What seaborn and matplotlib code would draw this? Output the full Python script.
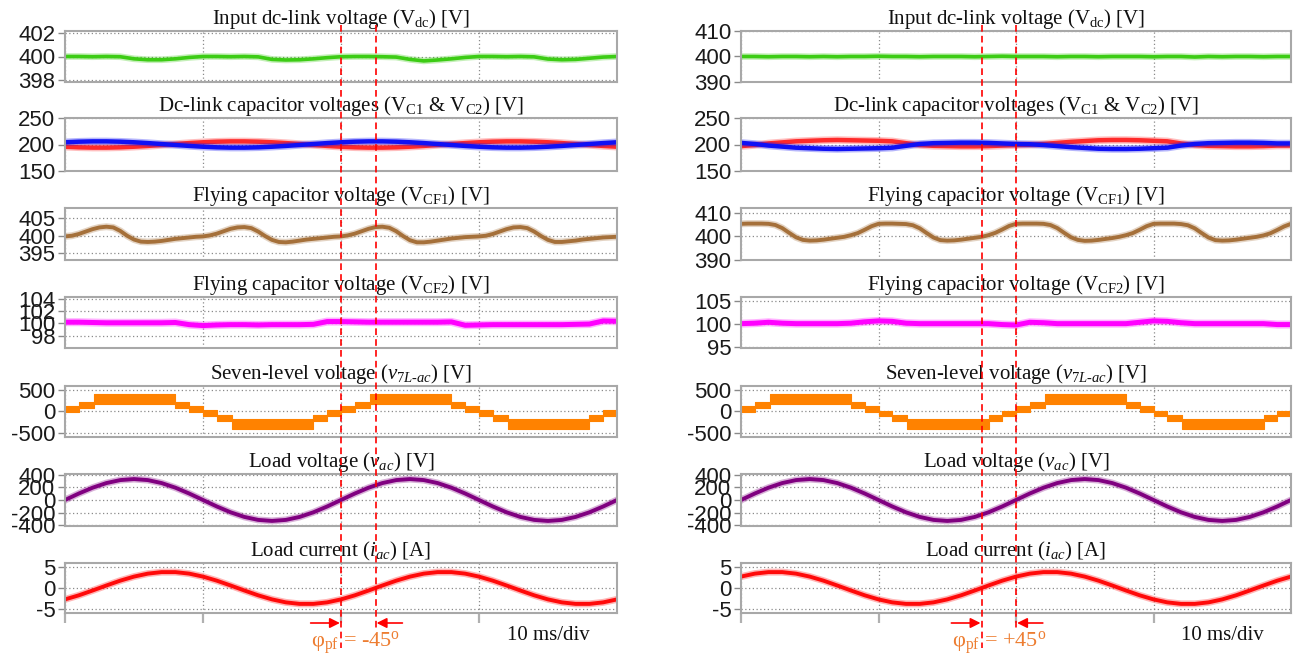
import numpy as np
import matplotlib
matplotlib.use("Agg")
import matplotlib.pyplot as plt
import seaborn as sns
from matplotlib.transforms import blended_transform_factory
from matplotlib.lines import Line2D

# ---------------------------------------------------------------- data
# sample instants in ms (10 ms/div, 4 divisions)
t_1ms = np.arange(0, 41, 1.0)
t_05ms = np.arange(0, 40.5, 0.5)

vdc_left = [400.0, 400.0, 399.98, 400.0, 399.98, 399.8, 399.72, 399.72, 399.8, 399.92,
            400.0, 400.0, 399.98, 400.0, 399.97, 399.75, 399.7, 399.72, 399.8, 399.9,
            399.98, 400.0, 400.0, 399.98, 399.95, 399.75, 399.62, 399.7, 399.8, 399.92,
            400.0, 400.0, 399.98, 400.0, 399.97, 399.78, 399.72, 399.75, 399.85, 399.95, 400.0]
vdc_right = [400.0, 400.0, 399.9, 400.0, 400.0, 399.9, 400.0, 399.9, 400.0, 400.0,
             400.1, 400.0, 400.0, 399.9, 400.0, 400.0, 400.0, 399.9, 400.0, 400.1,
             400.0, 400.0, 400.0, 399.9, 400.0, 400.0, 399.9, 400.0, 400.0, 400.0,
             399.9, 400.0, 400.0, 399.8, 400.0, 399.9, 400.0, 400.0, 399.9, 400.0, 400.0]

vc1_left = [204.2, 205.3, 205.9, 205.9, 205.3, 204.2, 202.7, 200.9, 199.1, 197.3,
            195.8, 194.7, 194.1, 194.1, 194.7, 195.8, 197.3, 199.1, 200.9, 202.7,
            204.2, 205.3, 205.9, 205.9, 205.3, 204.2, 202.7, 200.9, 199.1, 197.3,
            195.8, 194.7, 194.1, 194.1, 194.7, 195.8, 197.3, 199.1, 200.9, 202.7, 204.2]
vc2_left = [195.8, 194.7, 194.1, 194.1, 194.7, 195.8, 197.3, 199.1, 200.9, 202.7,
            204.2, 205.3, 205.9, 205.9, 205.3, 204.2, 202.7, 200.9, 199.1, 197.3,
            195.8, 194.7, 194.1, 194.1, 194.7, 195.8, 197.3, 199.1, 200.9, 202.7,
            204.2, 205.3, 205.9, 205.9, 205.3, 204.2, 202.7, 200.9, 199.1, 197.3, 195.8]
vc1_right = [203, 201, 198, 196, 194, 193, 192, 191.5, 192, 192.5,
             193, 194, 197.5, 201, 202.5, 203, 203.5, 203.5, 203, 202,
             201, 200.5, 199, 197, 195, 193.5, 192, 191.5, 191.5, 192,
             193, 194, 198, 201, 202.5, 203, 203.5, 203.5, 203, 202, 202]
vc2_right = [197, 199, 202, 204, 206, 207, 208, 208.5, 208, 207.5,
             207, 206, 202.5, 199, 197.5, 197, 196.5, 196.5, 197, 198,
             199, 199.5, 201, 203, 205, 206.5, 208, 208.5, 208.5, 208,
             207, 206, 202, 199, 197.5, 197, 196.5, 196.5, 197, 198, 198]

vcf1_left = [399.8, 400.0, 400.5, 401.2, 401.9, 402.4, 402.6, 402.4, 401.4, 400.0,
             398.9, 398.3, 398.2, 398.3, 398.5, 398.8, 399.1, 399.3, 399.5, 399.7,
             399.8, 400.1, 400.6, 401.3, 402.0, 402.4, 402.5, 402.2, 401.2, 399.9,
             398.8, 398.2, 398.1, 398.3, 398.6, 398.9, 399.1, 399.3, 399.5, 399.7,
             399.8, 400.1, 400.6, 401.3, 402.0, 402.5, 402.6, 402.3, 401.3, 399.9,
             398.7, 398.1, 398.1, 398.3, 398.6, 398.9, 399.2, 399.4, 399.6, 399.7,
             399.8, 400.0, 400.5, 401.2, 401.9, 402.4, 402.5, 402.2, 401.2, 399.9,
             398.8, 398.2, 398.2, 398.4, 398.6, 398.9, 399.1, 399.3, 399.5, 399.6, 399.7]
vcf1_right = [405.3, 405.4, 405.4, 405.4, 405.3, 404.8, 403.5, 401.5, 399.6, 398.5,
              398.2, 398.3, 398.6, 399.0, 399.4, 399.8, 400.5, 401.4, 402.8, 404.3,
              405.3, 405.4, 405.4, 405.3, 405.2, 404.7, 403.4, 401.4, 399.5, 398.4,
              398.2, 398.3, 398.6, 399.0, 399.4, 399.8, 400.5, 401.5, 402.9, 404.4,
              405.3, 405.4, 405.4, 405.4, 405.3, 404.8, 403.5, 401.5, 399.6, 398.5,
              398.1, 398.2, 398.5, 398.9, 399.3, 399.8, 400.5, 401.4, 402.8, 404.3,
              405.3, 405.4, 405.4, 405.4, 405.2, 404.7, 403.4, 401.4, 399.5, 398.4,
              398.2, 398.3, 398.6, 399.0, 399.4, 399.8, 400.4, 401.3, 402.7, 404.2, 405.3]

vcf2_left = [100.2, 100.2, 100.15, 100.1, 100.1, 100.1, 100.1, 100.1, 100.15, 99.8,
             99.65, 99.75, 99.8, 99.8, 99.75, 99.8, 99.8, 99.8, 99.85, 100.3,
             100.3, 100.25, 100.2, 100.2, 100.2, 100.2, 100.2, 100.2, 100.25, 99.7,
             99.75, 99.8, 99.8, 99.8, 99.8, 99.8, 99.8, 99.85, 99.9, 100.4, 100.35]
vcf2_right = [100.0, 100.1, 100.3, 100.1, 100.0, 100.0, 100.0, 100.0, 100.1, 100.4,
              100.6, 100.5, 100.1, 100.0, 100.0, 100.0, 100.0, 100.0, 100.0, 99.8,
              99.7, 100.3, 100.2, 100.0, 100.0, 100.0, 100.0, 100.0, 100.0, 100.3,
              100.6, 100.5, 100.2, 100.0, 100.0, 100.0, 100.0, 100.0, 100.0, 99.8, 99.8]

# seven-level staircase: segment edges (ms) and the switching band of each segment
v7_edges = [0, 1, 2.1, 8, 9, 10, 11, 12.1, 18, 19, 20,
            21, 22.1, 28, 29, 30, 31, 32.1, 38, 39, 40]
v7_low = [-20, 80, 180, 80, -20, -120, -220, -410, -220, -120,
          -20, 80, 180, 80, -20, -120, -220, -410, -220, -120]
v7_high = [120, 220, 410, 220, 120, 20, -80, -180, -80, 20,
           120, 220, 410, 220, 120, 20, -80, -180, -80, 20]

v_load = [0, 102, 194, 267, 314, 330, 314, 267, 194, 102,
          0, -102, -194, -267, -314, -330, -314, -267, -194, -102,
          0, 102, 194, 267, 314, 330, 314, 267, 194, 102,
          0, -102, -194, -267, -314, -330, -314, -267, -194, -102, 0]

iac_left = [-2.69, -1.73, -0.59, 0.59, 1.73, 2.69, 3.39, 3.75, 3.75, 3.39,
            2.69, 1.73, 0.59, -0.59, -1.73, -2.69, -3.39, -3.75, -3.75, -3.39,
            -2.69, -1.73, -0.59, 0.59, 1.73, 2.69, 3.39, 3.75, 3.75, 3.39,
            2.69, 1.73, 0.59, -0.59, -1.73, -2.69, -3.39, -3.75, -3.75, -3.39, -2.69]
iac_right = [2.69, 3.39, 3.75, 3.75, 3.39, 2.69, 1.73, 0.59, -0.59, -1.73,
             -2.69, -3.39, -3.75, -3.75, -3.39, -2.69, -1.73, -0.59, 0.59, 1.73,
             2.69, 3.39, 3.75, 3.75, 3.39, 2.69, 1.73, 0.59, -0.59, -1.73,
             -2.69, -3.39, -3.75, -3.75, -3.39, -2.69, -1.73, -0.59, 0.59, 1.73, 2.69]

# phase-shift markers (ms) and their annotation
pf_left = (20.0, 22.5)
pf_right = (17.5, 20.0)
pf_label_left = "-45"
pf_label_right = "+45"

titles = [
    r"Input dc-link voltage (V$_{\mathrm{dc}}$) [V]",
    r"Dc-link capacitor voltages (V$_{\mathrm{C1}}$ & V$_{\mathrm{C2}}$) [V]",
    r"Flying capacitor voltage (V$_{\mathrm{CF1}}$) [V]",
    r"Flying capacitor voltage (V$_{\mathrm{CF2}}$) [V]",
    r"Seven-level voltage ($v_{7L\text{-}ac}$) [V]",
    r"Load voltage ($v_{ac}$) [V]",
    r"Load current ($i_{ac}$) [A]",
]
yticks_left = [[398, 400, 402], [150, 200, 250], [395, 400, 405], [98, 100, 102, 104],
               [-500, 0, 500], [-400, -200, 0, 200, 400], [-5, 0, 5]]
yticks_right = [[390, 400, 410], [150, 200, 250], [390, 400, 410], [95, 100, 105],
                [-500, 0, 500], [-400, -200, 0, 200, 400], [-5, 0, 5]]
ylims_left = [(397.8, 402.2), (150, 250), (393, 408), (96, 104.3),
              (-605, 595), (-410, 410), (-5.9, 5.9)]
ylims_right = [(390, 410), (150, 250), (390, 412), (94.7, 105.8),
               (-605, 600), (-410, 410), (-5.9, 5.9)]

# ---------------------------------------------------------------- style
sns.set_style("white")
plt.rcParams["font.family"] = ["Liberation Sans", "DejaVu Sans"]
plt.rcParams["axes.unicode_minus"] = False
plt.rcParams["mathtext.fontset"] = "custom"
plt.rcParams["mathtext.rm"] = "Liberation Serif"
plt.rcParams["mathtext.it"] = "Liberation Serif:italic"
plt.rcParams["mathtext.bf"] = "Liberation Serif:bold"

SERIF = ["Liberation Serif", "DejaVu Serif"]
C_GREEN = "#3ccc14"
C_BLUE = "#1010f5"
C_RED = "#ff2a2a"
C_BROWN = "#a5703a"
C_MAGENTA = "#ff00ff"
C_ORANGE = "#ff8200"
C_PURPLE = "#800080"
C_CURRENT = "#ff0a0a"
C_PF = "#ed7d31"

W, H = 1297, 660
fig = plt.figure(figsize=(W / 100, H / 100), dpi=100)
fig.patch.set_facecolor("white")

# panel boxes in pixels (top, bottom)
rows_px = [(31, 82), (118, 171), (208, 260), (297, 348), (386, 437), (474, 526), (563, 613)]
cols_px = [(65, 617), (741, 1291)]


def make_axes(col, row):
    x0, x1 = cols_px[col]
    y0, y1 = rows_px[row]
    return fig.add_axes([x0 / W, 1 - y1 / H, (x1 - x0) / W, (y1 - y0) / H])


def trace(ax, t, y, color, lw=2.8):
    sns.lineplot(x=t, y=y, ax=ax, color=color, linewidth=lw + 2.2, alpha=0.3)
    sns.lineplot(x=t, y=y, ax=ax, color=color, linewidth=lw)


def style_axes(ax, title, yticks, ylim, bottom):
    ax.set_xlim(0, 40)
    ax.set_ylim(*ylim)
    ax.set_yticks(yticks)
    ax.set_xticks([0, 10, 20, 30, 40])
    ax.set_xlabel("")
    ax.set_ylabel("")
    ax.set_axisbelow(True)
    ax.grid(True, color="#8a8a8a", linestyle=(0, (1, 2)), linewidth=0.9)
    for s in ax.spines.values():
        s.set_color("#a8a8a8")
        s.set_linewidth(1.5)
    ax.tick_params(axis="y", length=5, width=1, color="#8a8a8a", pad=2,
                   labelsize=16, labelcolor="#1a1a1a", left=True)
    if bottom:
        ax.tick_params(axis="x", length=7, width=1.6, color="#b0b0b0",
                       labelbottom=False, bottom=True)
        ax.xaxis.get_major_ticks()[-1].tick1line.set_visible(False)
    else:
        ax.tick_params(axis="x", length=0, labelbottom=False)
    ax.set_title(title, fontsize=15, family=SERIF, pad=4.5, color="#111111")


columns = [
    dict(vdc=vdc_left, vc1=vc1_left, vc2=vc2_left, vcf1=vcf1_left, vcf2=vcf2_left,
         iac=iac_left, yt=yticks_left, yl=ylims_left, pf=pf_left, pfl=pf_label_left),
    dict(vdc=vdc_right, vc1=vc1_right, vc2=vc2_right, vcf1=vcf1_right, vcf2=vcf2_right,
         iac=iac_right, yt=yticks_right, yl=ylims_right, pf=pf_right, pfl=pf_label_right),
]

for ci, col in enumerate(columns):
    axes = [make_axes(ci, r) for r in range(7)]

    trace(axes[0], t_1ms, col["vdc"], C_GREEN, lw=2.6)
    trace(axes[1], t_1ms, col["vc2"], C_RED, lw=3.2)
    trace(axes[1], t_1ms, col["vc1"], C_BLUE, lw=3.2)
    trace(axes[2], t_05ms, col["vcf1"], C_BROWN, lw=2.8)
    trace(axes[3], t_1ms, col["vcf2"], C_MAGENTA, lw=3.6)

    lo = np.append(v7_low, v7_low[-1])
    hi = np.append(v7_high, v7_high[-1])
    axes[4].fill_between(v7_edges, lo, hi, step="post", color=C_ORANGE,
                         linewidth=0.8, edgecolor=C_ORANGE)

    trace(axes[5], t_1ms, v_load, C_PURPLE, lw=2.8)
    trace(axes[6], t_1ms, col["iac"], C_CURRENT, lw=2.8)

    for r, ax in enumerate(axes):
        style_axes(ax, titles[r], col["yt"][r], col["yl"][r], bottom=(r == 6))

    # phase-shift markers across the whole column
    ax_b = axes[6]
    blend = blended_transform_factory(ax_b.transData, fig.transFigure)
    ta, tb = col["pf"]
    for tt, ybot in ((ta, 648), (tb, 628)):
        fig.add_artist(Line2D([tt, tt], [1 - 25 / H, 1 - ybot / H], transform=blend,
                              color="red", linewidth=1.2, linestyle=(0, (4, 2.5)),
                              zorder=10))
    arrow = dict(arrowstyle="-|>", color="red", lw=1.2, mutation_scale=15,
                 shrinkA=0, shrinkB=0)
    ax_b.annotate("", xy=(ta - 0.08, 37), xycoords=("data", "figure pixels"),
                  xytext=(ta - 2.2, 37), textcoords=("data", "figure pixels"),
                  arrowprops=arrow, annotation_clip=False)
    ax_b.annotate("", xy=(tb + 0.08, 37), xycoords=("data", "figure pixels"),
                  xytext=(tb + 1.95, 37), textcoords=("data", "figure pixels"),
                  arrowprops=arrow, annotation_clip=False)
    ax_b.annotate(r"φ$_{\mathrm{pf}}$ = " + col["pfl"] + r"$^{\mathrm{o}}$",
                  xy=(ta - 2.15, 17), xycoords=("data", "figure pixels"),
                  ha="left", va="center", fontsize=16, family=SERIF,
                  color=C_PF, annotation_clip=False)
    ax_b.annotate("10 ms/div", xy=(35.0, 25), xycoords=("data", "figure pixels"),
                  ha="center", va="center", fontsize=15, family=SERIF,
                  color="#111111", annotation_clip=False)

fig.savefig("out.png", dpi=100, facecolor="white")
